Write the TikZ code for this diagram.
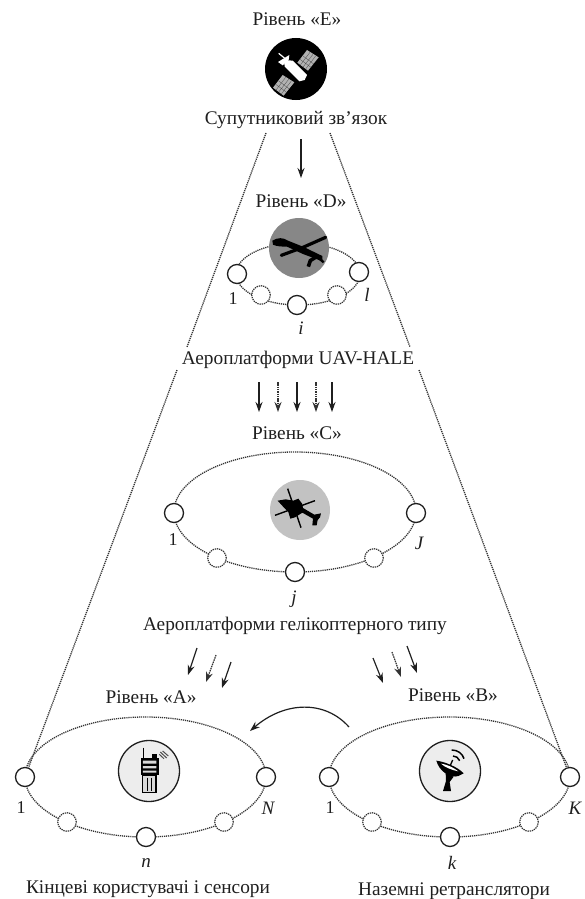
\documentclass[tikz,border=0pt]{standalone}
\usepackage{fontspec}
\setmainfont{Liberation Serif}
\usetikzlibrary{shapes.geometric,arrows.meta}
\definecolor{ink}{gray}{0.12}
\definecolor{dots}{gray}{0.2}
\tikzset{
 lab/.style={text=ink,font=\fontsize{19.3}{21}\selectfont,inner sep=0pt,anchor=base},
 idx/.style={text=ink,font=\fontsize{19}{21}\selectfont\itshape,inner sep=0pt},
 num/.style={text=ink,font=\fontsize{18}{20}\selectfont,inner sep=0pt},
 orbit/.style={ellipse,draw=dots,line width=1.3pt,dash pattern=on 1.2pt off 0.9pt,inner sep=0pt},
 bigring/.style={circle,draw=ink,fill=white,line width=1.3pt,minimum size=19pt,inner sep=0pt},
 dotring/.style={circle,draw=dots,fill=white,line width=1.2pt,dash pattern=on 1.3pt off 0.9pt,minimum size=18.5pt,inner sep=0pt},
 ray/.style={draw=dots,line width=1.3pt,dash pattern=on 1.2pt off 0.9pt},
 solidarrow/.style={draw=ink,line width=1.2pt,-{Stealth[length=10pt,width=7pt]}},
 dotarrow/.style={draw=dots,line width=1.2pt,dash pattern=on 1.5pt off 0.8pt,-{Stealth[length=10pt,width=7pt]}},
 hub/.style={circle,inner sep=0pt},
}
\begin{document}
\begin{tikzpicture}[x=1pt,y=-1pt]
\useasboundingbox (0,0) rectangle (584,899);
% coordinates for rays and arrows
\coordinate (rl1) at (266,133); \coordinate (rl2) at (187,347); \coordinate (rl3) at (177,370);
\coordinate (rr1) at (330,133); \coordinate (rr2) at (410,347); \coordinate (rr3) at (419,370);
\coordinate (ed1) at (301,139); \coordinate (ed2) at (301,178);
\foreach \n/\x in {a/259,b/278,c/297,d/316,e/332}{\coordinate (dc\n1) at (\x,382); \coordinate (dc\n2) at (\x,412);}
\coordinate (ca11) at (197,648); \coordinate (ca12) at (188,675);
\coordinate (ca21) at (216,655); \coordinate (ca22) at (206,682);
\coordinate (ca31) at (231,662); \coordinate (ca32) at (222,688);
\coordinate (cb11) at (373,658); \coordinate (cb12) at (383,683);
\coordinate (cb21) at (392,652); \coordinate (cb22) at (401,677);
\coordinate (cb31) at (407,646); \coordinate (cb32) at (417,673);
\coordinate (ba1) at (349,727); \coordinate (ba2) at (250,731);

% orbits
\node[orbit,minimum width=124pt,minimum height=62pt] (orbD) at (298,274) {};
\node[orbit,minimum width=242pt,minimum height=120pt] (orbC) at (295,512) {};
\node[orbit,minimum width=241pt,minimum height=120pt] (orbA) at (145.5,777) {};
\node[orbit,minimum width=241pt,minimum height=120pt] (orbB) at (449.5,777) {};

% nodes
\node[bigring] (d1) at (237,274) {}; \node[bigring] (dl) at (359,272) {}; \node[bigring] (di) at (297,305) {};
\node[dotring] (ds1) at (261,295) {}; \node[dotring] (ds2) at (337,295) {};
\node[bigring] (c1) at (174,513) {}; \node[bigring] (cJ) at (416,513) {}; \node[bigring] (cj) at (295,572) {};
\node[dotring] (cs1) at (217,558) {}; \node[dotring] (cs2) at (374,558) {};
\node[bigring] (a1) at (25,777) {}; \node[bigring] (aN) at (266,777) {}; \node[bigring] (an) at (146,837) {};
\node[dotring] (as1) at (67,822) {}; \node[dotring] (as2) at (224,822) {};
\node[bigring] (b1) at (329,777) {}; \node[bigring] (bK) at (570,777) {}; \node[bigring] (bk) at (450,837) {};
\node[dotring] (bs1) at (372,822) {}; \node[dotring] (bs2) at (529,822) {};

% rays
\draw[ray] (rl1) -- (rl2); \draw[ray] (rl3) -- (a1);
\draw[ray] (rr1) -- (rr2); \draw[ray] (rr3) -- (bK);

% arrows
\draw[solidarrow] (ed1) -- (ed2);
\draw[solidarrow] (dca1) -- (dca2); \draw[dotarrow] (dcb1) -- (dcb2);
\draw[solidarrow] (dcc1) -- (dcc2); \draw[dotarrow] (dcd1) -- (dcd2);
\draw[solidarrow] (dce1) -- (dce2);
\draw[solidarrow] (ca11) -- (ca12); \draw[dotarrow] (ca21) -- (ca22); \draw[solidarrow] (ca31) -- (ca32);
\draw[solidarrow] (cb11) -- (cb12); \draw[dotarrow] (cb21) -- (cb22); \draw[solidarrow] (cb31) -- (cb32);
\draw[solidarrow] (ba1) .. controls (325,700) and (285,701) .. (ba2);

% satellite
\node[hub,fill=black,minimum size=62pt] (hubE) at (296,69) {};
\begin{scope}[shift={(262,40)},x=0.3333pt,y=-0.3333pt]
 \fill[white] (66,60) -- (92,62) -- (135,105) -- (128,120) -- (112,124) -- (68,80) -- cycle;
 \draw[white,line width=1.2pt] (50,40) -- (72,58);
 \fill[white] (48,66) -- (82,45) -- (80,60) -- (62,76) -- cycle;
 \foreach \p/\q in {0/0,-73/75}{
  \begin{scope}[shift={(\p,\q)}]
  \fill[black!30] (135,30) -- (170,52) -- (138,92) -- (106,68) -- cycle;
  \draw[black!70,line width=.3pt] (144,37) -- (115,75) (153,43) -- (123,81) (161,48) -- (131,87) (123,48) -- (155,72) (114,58) -- (147,82);
  \end{scope}}
\end{scope}

% drone
\node[hub,fill=black!47,minimum size=60pt] (hubD) at (299,248) {};
\begin{scope}[shift={(263,214)},x=0.3333pt,y=-0.3333pt]
 \draw[black,line width=3.2pt,line cap=round] (188,70) -- (120,100) -- (55,124);
 \fill[black] (28,80) .. controls (45,70) and (60,70) .. (75,80) -- (120,98) -- (178,126) -- (178,142) -- (120,120) -- (72,98) .. controls (55,98) and (40,97) .. (30,92) -- cycle;
 \draw[black,line width=3.6pt] (165,125) -- (142,140) -- (136,158);
 \draw[black,line width=2.4pt] (165,130) -- (182,145);
\end{scope}

% helicopter
\node[hub,fill=black!24,minimum size=60pt] (hubC) at (300,510) {};
\begin{scope}[shift={(265,476)},x=0.3333pt,y=-0.3333pt]
 \draw[black,line width=1.4pt] (68,38) -- (108,155) (30,118) -- (150,74);
 \fill[black] (38,74) -- (62,70) -- (85,74) -- (100,68) -- (112,84) -- (114,96) -- (148,116) -- (168,112) -- (165,124) -- (158,132) -- (155,148) -- (142,148) -- (144,128) -- (112,110) -- (90,124) -- (76,128) -- (70,108) -- (58,96) -- cycle;
\end{scope}

% radio
\node[hub,draw=ink,line width=1.3pt,fill=black!7,minimum size=61pt] (hubA) at (149,771) {};
\begin{scope}[shift={(114,736)},x=0.3333pt,y=-0.3333pt]
 \draw[black,line width=1pt] (90,35) -- (90,65);
 \fill[black] (114,55) rectangle (128,66);
 \fill[black] (80,65) rectangle (134,118);
 \fill[white!85!black] (87,74) rectangle (127,83) (87,90) rectangle (127,97) (87,104) rectangle (127,110);
 \draw[black,line width=1.3pt,fill=white!85!black] (86,118) rectangle (126,170);
 \draw[black,line width=.8pt] (99,125) -- (99,164) (113,125) -- (113,164);
 \draw[black!70,line width=1pt] (139,48) -- (158,66) (146,45) -- (163,60) (136,55) -- (150,68);
\end{scope}

% dish
\node[hub,draw=ink,line width=1.3pt,fill=black!7,minimum size=61pt] (hubB) at (450,771) {};
\begin{scope}[shift={(415,736)},x=0.3333pt,y=-0.3333pt]
 \fill[black] (64,74) .. controls (85,76) and (128,92) .. (146,112) -- (130,120) .. controls (105,128) and (72,105) .. cycle;
 \fill[white] (78,83) .. controls (95,85) and (115,94) .. (130,106) .. controls (110,102) and (90,94) .. cycle;
 \fill[black] (92,112) -- (116,122) -- (104,138) -- (108,165) -- (84,165) -- (93,135) -- cycle;
 \draw[black,line width=1.3pt] (106,88) -- (113,72);
 \draw[black,line width=1.5pt] (114,60) .. controls (123,60) and (130,65) .. (134,74);
 \draw[black,line width=1.5pt] (110,42) .. controls (128,42) and (142,52) .. (147,68);
\end{scope}

% texts
\node[lab] (tE) at (297,25.5) {Рівень «Е»};
\node[lab] (tEs) at (296,124) {Супутниковий зв’язок};
\node[lab] (tD) at (301,207) {Рівень «D»};
\node[lab] (tDs) at (298,364) {Аероплатформи UAV-HALE};
\node[lab] (tC) at (297,439.5) {Рівень «С»};
\node[lab] (tCs) at (295,630) {Аероплатформи гелікоптерного типу};
\node[lab] (tA) at (151,703.5) {Рівень «А»};
\node[lab] (tB) at (453,701.5) {Рівень «В»};
\node[lab] (tAs) at (148,893) {Кінцеві користувачі і сенсори};
\node[lab] (tBs) at (454,895) {Наземні ретранслятори};
\node[num] (l1) at (233,299) {1}; \node[idx] (ll) at (367,295) {l}; \node[idx] (li) at (301,328) {i};
\node[num] (l2) at (173,540) {1}; \node[idx] (lJ) at (419,543) {J}; \node[idx] (lj) at (294,599) {j};
\node[num] (l3) at (21,808) {1}; \node[idx] (lN) at (268,808) {N}; \node[idx] (ln) at (146,863) {n};
\node[num] (l4) at (330,808) {1}; \node[idx] (lK) at (575,808) {K}; \node[idx] (lk) at (452,863) {k};
\end{tikzpicture}
\end{document}
